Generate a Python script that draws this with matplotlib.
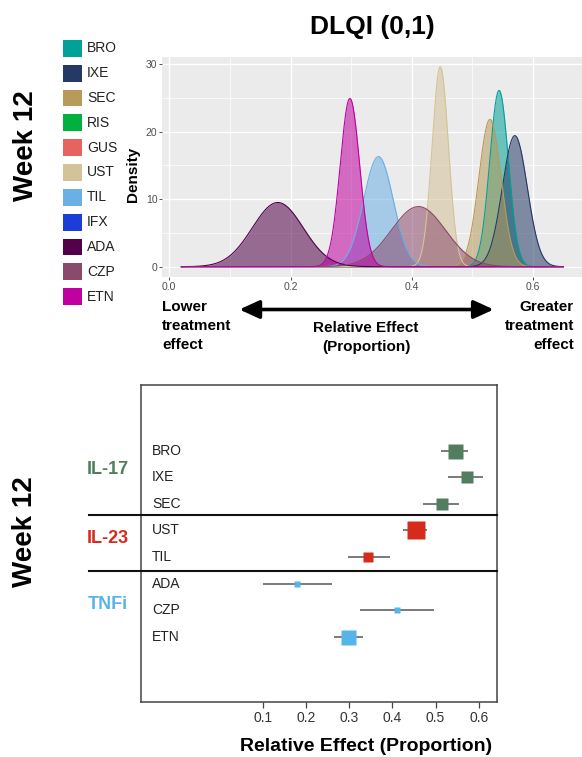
import numpy as np
import matplotlib
matplotlib.use("Agg")
import matplotlib.pyplot as plt
from matplotlib.patches import Rectangle, FancyArrowPatch, ArrowStyle

plt.rcParams['font.family'] = ['Liberation Sans', 'DejaVu Sans']

W, H = 582, 757

# legend / density data (Week 12, DLQI (0,1))
legend_names = ["BRO", "IXE", "SEC", "RIS", "GUS", "UST", "TIL", "IFX", "ADA", "CZP", "ETN"]
legend_colors = ["#00A196", "#243A64", "#B89A5A", "#00B140", "#E6645F", "#D4C298",
                 "#6AB0E4", "#1C3DD8", "#52004A", "#8B4A6B", "#C000A0"]

dens_names = ["BRO", "IXE", "SEC", "UST", "TIL", "ADA", "CZP", "ETN"]
dens_mode = [0.544, 0.570, 0.529, 0.447, 0.345, 0.179, 0.411, 0.298]
dens_peak = [26.1, 19.4, 21.8, 29.6, 16.3, 9.5, 8.9, 24.9]
dens_range = (0.02, 0.65)

# forest plot data
forest_names = ["BRO", "IXE", "SEC", "UST", "TIL", "ADA", "CZP", "ETN"]
forest_est = [0.545, 0.572, 0.514, 0.454, 0.344, 0.179, 0.410, 0.298]
forest_lo = [0.512, 0.530, 0.472, 0.424, 0.298, 0.100, 0.324, 0.265]
forest_hi = [0.575, 0.611, 0.555, 0.480, 0.394, 0.261, 0.496, 0.332]
forest_weight = [15, 12, 12, 18, 9.5, 6, 6, 15]
forest_class = ["IL-17", "IL-17", "IL-17", "IL-23", "IL-23", "TNFi", "TNFi", "TNFi"]
class_names = ["IL-17", "IL-23", "TNFi"]
class_colors = {"IL-17": "#527D5E", "IL-23": "#D62A1C", "TNFi": "#56B4E9"}


def fx(px):
    return px / W


def fy(py):
    return 1 - py / H


fig = plt.figure(figsize=(W / 100, H / 100), dpi=100)

# ---------------- top: density plot ----------------
top = [162.3, 56.7, 582, 276.7]  # left, top, right, bottom in px
ax1 = fig.add_axes([fx(top[0]), fy(top[3]), fx(top[2] - top[0]), (top[3] - top[1]) / H])
ax1.set_facecolor("#EBEBEB")
for s in ax1.spines.values():
    s.set_visible(False)

xs = np.linspace(dens_range[0], dens_range[1], 600)
col = dict(zip(legend_names, legend_colors))
for name, mu, pk in zip(dens_names, dens_mode, dens_peak):
    sd = 1 / (pk * np.sqrt(2 * np.pi))
    ys = pk * np.exp(-0.5 * ((xs - mu) / sd) ** 2)
    ax1.fill_between(xs, 0, ys, color=col[name], alpha=0.55, lw=0, zorder=3)
    ax1.plot(xs, ys, color=col[name], lw=0.8, zorder=4)

ax1.set_xlim(-0.0115, 0.6808)
ax1.set_ylim(-1.48, 31.08)
ax1.set_xticks([0.0, 0.2, 0.4, 0.6])
ax1.set_xticklabels(["0.0", "0.2", "0.4", "0.6"])
ax1.set_xticks([0.1, 0.3, 0.5], minor=True)
ax1.set_yticks([0, 10, 20, 30])
ax1.set_yticks([5, 15, 25], minor=True)
ax1.grid(which="major", color="white", lw=1.0, zorder=0)
ax1.grid(which="minor", color="white", lw=0.5, zorder=0)
ax1.set_axisbelow(True)
ax1.tick_params(which="major", length=2, width=0.6, color="#333333", pad=1.5,
                labelsize=7.5, labelcolor="#4D4D4D")
ax1.tick_params(which="minor", length=0)

fig.text(fx(133), fy(174), "Density", rotation=90, ha="center", va="center",
         fontsize=11, fontweight="bold")
fig.text(fx(372), fy(27), "DLQI (0,1)", ha="center", va="center",
         fontsize=19, fontweight="bold")

# legend
for i, (name, c) in enumerate(zip(legend_names, legend_colors)):
    yc = 48.3 + i * 24.84
    fig.patches.append(Rectangle((fx(62.7), fy(yc + 8.4)), fx(19), 16.8 / H,
                                 transform=fig.transFigure, facecolor=c, edgecolor="none"))
    fig.text(fx(87), fy(yc), name, ha="left", va="center", fontsize=10, color="#222222")

# Week 12 labels
fig.text(fx(26), fy(146), "Week 12", rotation=90, ha="center", va="center",
         fontsize=20, fontweight="bold")
fig.text(fx(25), fy(532), "Week 12", rotation=90, ha="center", va="center",
         fontsize=20, fontweight="bold")

# direction arrow and captions
arrow = FancyArrowPatch((fx(239.4), fy(309.5)), (fx(493.7), fy(309.5)),
                        transform=fig.transFigure,
                        arrowstyle=ArrowStyle("<|-|>", head_length=12, head_width=5.5),
                        lw=2.6, color="black", shrinkA=0, shrinkB=0)
fig.patches.append(arrow)

line_y = [307, 326, 345]
for txt, yy in zip(["Lower", "treatment", "effect"], line_y):
    fig.text(fx(162), fy(yy), txt, ha="left", va="center", fontsize=11, fontweight="bold")
for txt, yy in zip(["Greater", "treatment", "effect"], line_y):
    fig.text(fx(574), fy(yy), txt, ha="right", va="center", fontsize=11, fontweight="bold")
for txt, yy in zip(["Relative Effect", "(Proportion)"], [328, 347]):
    fig.text(fx(366), fy(yy), txt, ha="center", va="center", fontsize=11, fontweight="bold")

# ---------------- bottom: forest plot ----------------
bot = [141, 384.7, 497.3, 701.7]
ax2 = fig.add_axes([fx(bot[0]), fy(bot[3]), fx(bot[2] - bot[0]), (bot[3] - bot[1]) / H])
rows = np.arange(1, len(forest_names) + 1)
for r, name, est, lo, hi, wt, cl in zip(rows, forest_names, forest_est, forest_lo,
                                        forest_hi, forest_weight, forest_class):
    ax2.plot([lo, hi], [r, r], color="#707070", lw=1.3, zorder=2, solid_capstyle="butt")
    ax2.plot(est, r, marker="s", ms=wt * 0.72, color=class_colors[cl], mec="none", zorder=3)
    ax2.text(0.031, r, name, transform=ax2.get_yaxis_transform(), ha="left", va="center",
             fontsize=10, color="#222222")

ax2.set_xlim(-0.182, 0.643)
ax2.set_ylim(10.446, -1.484)
ax2.set_xticks([0.1, 0.2, 0.3, 0.4, 0.5, 0.6])
ax2.set_xticklabels(["0.1", "0.2", "0.3", "0.4", "0.5", "0.6"])
ax2.set_yticks([])
ax2.tick_params(axis="x", length=4, width=0.9, color="#444444", labelsize=10,
                labelcolor="#333333", pad=3)
for s in ax2.spines.values():
    s.set_color("#444444")
    s.set_linewidth(1.1)

for ysep in [3.41, 5.54]:
    ax2.plot([-0.146, 1.0], [ysep, ysep], transform=ax2.get_yaxis_transform(),
             color="#111111", lw=1.5, clip_on=False, zorder=4)

group_y = {"IL-17": 1.69, "IL-23": 4.29, "TNFi": 6.77}
for g in class_names:
    ax2.text(-0.0926, group_y[g], g, transform=ax2.get_yaxis_transform(), ha="center",
             va="center", fontsize=13, fontweight="bold", color=class_colors[g])

fig.text(fx(366), fy(746.5), "Relative Effect (Proportion)", ha="center", va="center",
         fontsize=14, fontweight="bold")

fig.savefig("out.png", dpi=100)
